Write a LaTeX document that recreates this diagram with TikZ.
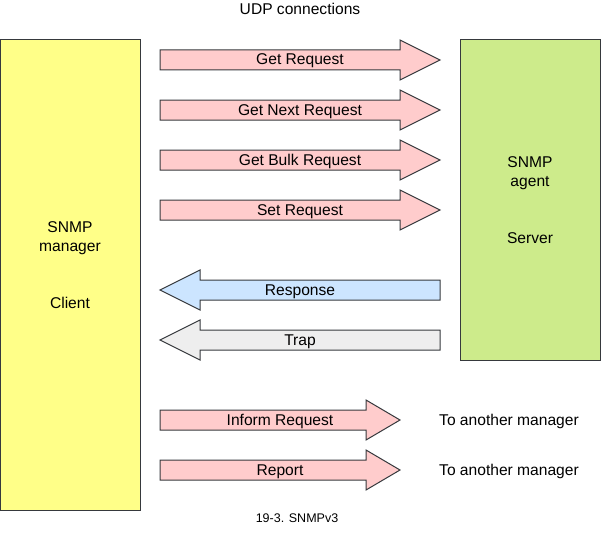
\documentclass[tikz,border=0pt]{standalone}
\usepackage{fontspec}
\setmainfont{Liberation Sans}
\definecolor{pinkc}{HTML}{FFCCCC}
\definecolor{bluec}{HTML}{CCE5FF}
\definecolor{grayc}{HTML}{EEEEEE}
\definecolor{yellowc}{HTML}{FFFF88}
\definecolor{greenc}{HTML}{CDEB8B}
\definecolor{strokec}{HTML}{36393D}
\newcommand{\rightarr}[5]{%
  \filldraw[arrowline, fill=#5] (#1,#3-10) -- (#2-#4,#3-10) -- (#2-#4,#3-20) -- (#2,#3) -- (#2-#4,#3+20) -- (#2-#4,#3+10) -- (#1,#3+10) -- cycle;}
\newcommand{\leftarr}[5]{%
  \filldraw[arrowline, fill=#5] (#2,#3-10) -- (#1+#4,#3-10) -- (#1+#4,#3-20) -- (#1,#3) -- (#1+#4,#3+20) -- (#1+#4,#3+10) -- (#2,#3+10) -- cycle;}
\begin{document}
\begin{tikzpicture}[x=1pt,y=-1pt,
  arrowline/.style={draw=strokec, line width=1pt, line join=miter},
  bigbox/.style={draw=strokec, line width=1pt, inner sep=0pt, outer sep=0pt},
  lbl/.style={font=\fontsize{15.6}{18}\selectfont, inner sep=0pt, anchor=base, text=black},
  captext/.style={font=\fontsize{12.5}{15}\selectfont, inner sep=0pt, anchor=base, text=black}]
\useasboundingbox (0,0) rectangle (601,532);
% boxes
\node[bigbox, fill=yellowc, minimum width=139.5pt, minimum height=470pt] (client) at (70.25,275) {};
\node[bigbox, fill=greenc, minimum width=140pt, minimum height=320pt] (server) at (530,200) {};
% title
\node[lbl] (udp) at (300,15) {UDP connections};
% client text
\node[lbl] (c1) at (70,232) {SNMP};
\node[lbl] (c2) at (70,251) {manager};
\node[lbl] (c3) at (70,308.5) {Client};
% server text
\node[lbl] (s1) at (530,167) {SNMP};
\node[lbl] (s2) at (530,186) {agent};
\node[lbl] (s3) at (530,243) {Server};
% request arrows
\rightarr{160}{440}{60}{40}{pinkc}
\node[lbl] (getreq) at (300,65) {Get Request};
\rightarr{160}{440}{110}{40}{pinkc}
\node[lbl] (getnext) at (300,115) {Get Next Request};
\rightarr{160}{440}{160}{40}{pinkc}
\node[lbl] (getbulk) at (300,165) {Get Bulk Request};
\rightarr{160}{440}{210}{40}{pinkc}
\node[lbl] (setreq) at (300,215) {Set Request};
% response arrows
\leftarr{160}{440}{290}{40}{bluec}
\node[lbl] (resp) at (300,295) {Response};
\leftarr{160}{440}{340}{40}{grayc}
\node[lbl] (trap) at (300,345) {Trap};
% inform / report
\rightarr{160}{400}{420}{34}{pinkc}
\node[lbl] (inform) at (280,425) {Inform Request};
\rightarr{160}{400}{470}{34}{pinkc}
\node[lbl] (report) at (280,475) {Report};
\node[lbl] (other1) at (509,425) {To another manager};
\node[lbl] (other2) at (509,475) {To another manager};
% caption
\node[captext] (caption) at (297,522.5) {19-3. SNMPv3};
\end{tikzpicture}
\end{document}
